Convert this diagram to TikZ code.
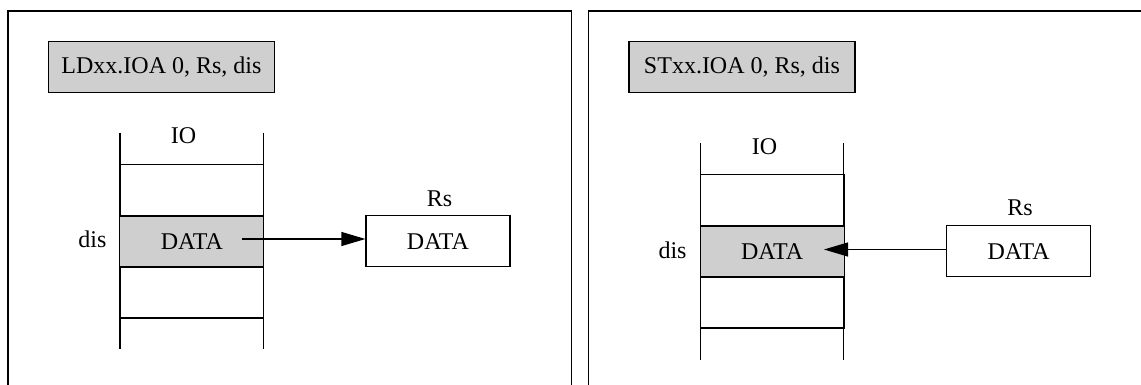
\documentclass[tikz,border=0pt]{standalone}
\usepackage{fontspec}
\setmainfont{Liberation Serif}
\usetikzlibrary{arrows.meta}
\definecolor{boxgray}{HTML}{CFCFCF}
\begin{document}
\begin{tikzpicture}[x=1pt,y=-1pt,
  every node/.style={font=\fontsize{24}{28}\selectfont, inner sep=0pt},
  ln/.style={line width=1.2pt, draw=black},
  cell/.style={ln, rectangle, minimum width=144pt, minimum height=51pt},
  graycell/.style={cell, fill=boxgray},
  titlebox/.style={ln, rectangle, fill=boxgray, minimum width=226pt, minimum height=51pt},
  arr/.style={line width=1.2pt, -{Triangle[length=24pt,width=14pt]}}]
\useasboundingbox (0,0) rectangle (1141,385);
% panel frames
\draw[line width=1.2pt] (8,386) -- (8,11) -- (571.5,11) -- (571.5,386);
\draw[line width=1.2pt] (588.7,386) -- (588.7,11) -- (1142,11);

% ---------- left panel ----------
\node[titlebox] (tL) at (161.5,67.3) {LDxx.IOA 0, Rs, dis};
\draw[line width=1.2pt] (120,133) -- (120,349);
\draw[line width=1.2pt] (263.5,133) -- (263.5,349);
\node (ioL) at (183.5,136) {IO};
\node[cell] (c1L) at (191.8,190) {};
\node[graycell] (c2L) at (191.8,241.5) {DATA};
\node[cell] (c3L) at (191.8,292.5) {};
\node (disL) at (92.5,239) {dis};
\node[cell] (rsL) at (438,241.2) {DATA};
\node (rslL) at (439.5,198.5) {Rs};
\coordinate (aL) at (242,239);
\draw[arr] (aL) -- (aL -| rsL.west);

% ---------- right panel ----------
\node[titlebox] (tR) at (742,67.3) {STxx.IOA 0, Rs, dis};
\draw[line width=1.2pt] (700.6,143) -- (700.6,360);
\draw[line width=1.2pt] (843.8,143) -- (843.8,360);
\node (ioR) at (764.5,147) {IO};
\node[cell] (c1R) at (772.2,200) {};
\node[graycell] (c2R) at (772.2,251.5) {DATA};
\node[cell] (c3R) at (772.2,302.5) {};
\node (disR) at (672.5,250) {dis};
\node[cell] (rsR) at (1018.6,251.3) {DATA};
\node (rslR) at (1020,208) {Rs};
\coordinate (aR) at (824,249.5);
\draw[arr] (rsR.west |- aR) -- (aR);
\end{tikzpicture}
\end{document}
